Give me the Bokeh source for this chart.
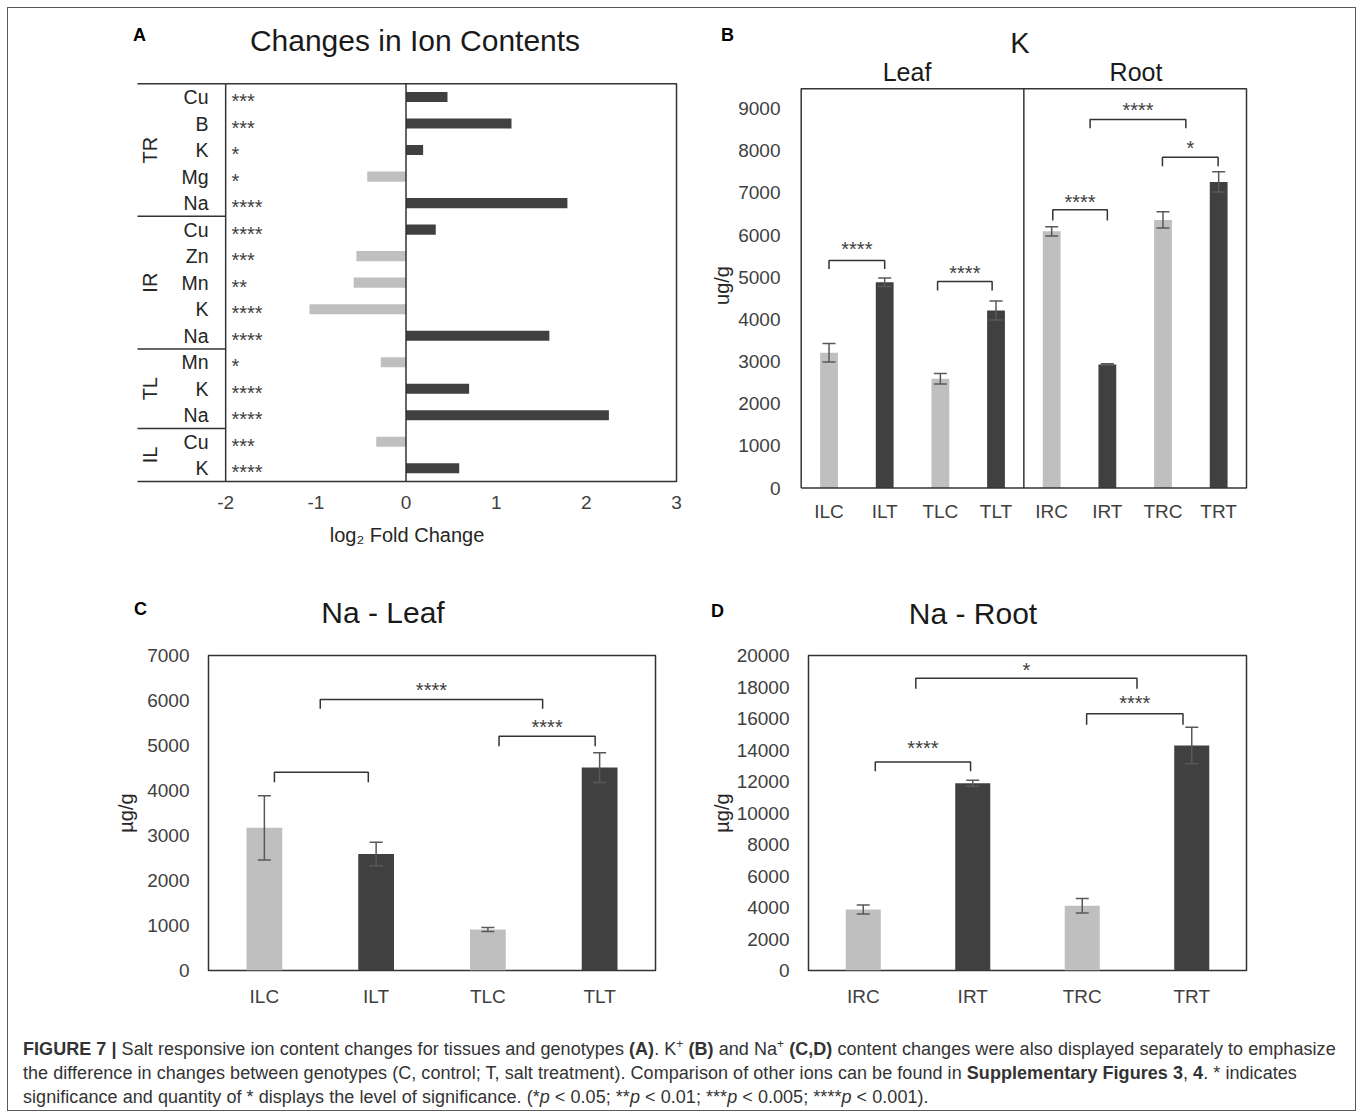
import numpy as np
from bokeh.plotting import figure
from bokeh.layouts import column, row
from bokeh.models import Range1d, FixedTicker, Whisker, TeeHead, ColumnDataSource, Div
from bokeh.core.properties import value
from bokeh.embed import file_html
from bokeh.resources import INLINE

FONT = "Liberation Sans"
DARK = "#404040"
LIGHT = "#bfbfbf"
FRAME = "#333333"
ERR = "#595959"
TICK_TXT = "#404040"
TITLE_TXT = "#1a1a1a"
PAGE_X0, PAGE_Y0 = 8, 8          # where the layout starts on the page
TOTAL_W = 1347

# ---------------- Panel A: log2 fold change of ion contents ----------------
a_title = "Changes in Ion Contents"
a_groups = ["TR", "IR", "TL", "IL"]
a_group_sizes = [5, 5, 3, 2]
a_ions = ["Cu", "B", "K", "Mg", "Na", "Cu", "Zn", "Mn", "K", "Na", "Mn", "K", "Na", "Cu", "K"]
a_log2fc = [0.46, 1.17, 0.19, -0.43, 1.79, 0.33, -0.55, -0.58, -1.07, 1.59, -0.28, 0.70, 2.25, -0.33, 0.59]
a_sig = ["***", "***", "*", "*", "****", "****", "***", "**", "****", "****", "*", "****", "****", "***", "****"]
a_xticks = [-2, -1, 0, 1, 2, 3]

# ---------------- Panel B: K content ----------------
b_title = "K"
b_cats = ["ILC", "ILT", "TLC", "TLT", "IRC", "IRT", "TRC", "TRT"]
b_mean = [3210, 4880, 2590, 4210, 6090, 2930, 6360, 7260]
b_err = [220, 100, 125, 225, 110, 15, 195, 240]
b_tissues = ["Leaf", "Root"]
b_yticks = list(range(0, 9001, 1000))
b_ymax = 9470
b_br_x1 = [0.50, 2.45, 4.52, 5.19, 6.49]
b_br_x2 = [1.50, 3.43, 5.50, 6.91, 7.49]
b_br_top = [5396, 4897, 6598, 8742, 7848]
b_br_leg = [5198, 4684, 6345, 8536, 7634]
b_br_sig = ["****", "****", "****", "****", "*"]
b_br_sig_y = [5775, 5198, 6875, 9051, 8149]

# ---------------- Panel C: Na - Leaf ----------------
c_title = "Na - Leaf"
c_cats = ["ILC", "ILT", "TLC", "TLT"]
c_mean = [3170, 2590, 910, 4510]
c_err = [715, 260, 45, 330]
c_yticks = list(range(0, 7001, 1000))
c_br_x1 = [0.59, 1.00, 2.60]
c_br_x2 = [1.43, 2.99, 3.46]
c_br_top = [4407, 6022, 5207]
c_br_leg = [4185, 5815, 4985]
c_br_sig = ["", "****", "****"]
c_br_sig_y = [4700, 6333, 5496]

# ---------------- Panel D: Na - Root ----------------
d_title = "Na - Root"
d_cats = ["IRC", "IRT", "TRC", "TRT"]
d_mean = [3880, 11890, 4110, 14290]
d_err = [285, 190, 455, 1160]
d_yticks = list(range(0, 20001, 2000))
d_br_x1 = [0.61, 0.98, 2.54]
d_br_x2 = [1.48, 3.00, 3.42]
d_br_top = [13235, 18562, 16300]
d_br_leg = [12643, 17886, 15603]
d_br_sig = ["****", "*", "****"]
d_br_sig_y = [14397, 19302, 17230]


def make_panel(ox, oy, w, h, fl, ft, fr, fb, xr, yr, outline=True):
    p = figure(width=w, height=h, x_range=Range1d(*xr), y_range=Range1d(*yr),
               output_backend="svg", toolbar_location=None,
               min_border_left=fl - ox, min_border_right=ox + w - fr,
               min_border_top=ft - oy, min_border_bottom=oy + h - fb,
               background_fill_color=None, border_fill_color=None)
    p.xgrid.visible = False
    p.ygrid.visible = False
    if outline:
        p.outline_line_color = FRAME
        p.outline_line_width = 1.5
        p.outline_line_alpha = 1.0
    else:
        p.outline_line_color = None

    def X(px):
        return xr[0] + (px - fl) / (fr - fl) * (xr[1] - xr[0])

    def Y(py):
        return yr[1] + (py - ft) / (fb - ft) * (yr[0] - yr[1])
    return p, X, Y


def style_axis(ax, size, standoff):
    ax.axis_line_color = None
    ax.major_tick_line_color = None
    ax.minor_tick_line_color = None
    ax.major_tick_out = 0
    ax.major_tick_in = 0
    ax.major_label_text_font = FONT
    ax.major_label_text_font_size = size
    ax.major_label_text_color = TICK_TXT
    ax.major_label_standoff = standoff
    ax.axis_label_text_font = FONT
    ax.axis_label_text_font_style = "normal"
    ax.axis_label_text_color = "#262626"


def bar_panel(p, cats, mean, err, yticks, ylabel, y_label_standoff, x_standoff,
              br_x1, br_x2, br_top, br_leg, br_sig, br_sig_y):
    xs = np.arange(len(cats)) + 0.5
    colors = [LIGHT if c.endswith("C") else DARK for c in cats]
    p.vbar(x=xs, top=mean, bottom=0, width=0.32, fill_color=colors, line_color=None)
    m = np.array(mean, dtype=float)
    e = np.array(err, dtype=float)
    src = ColumnDataSource(dict(x=xs, upper=m + e, lower=m - e))
    wh = Whisker(source=src, base="x", upper="upper", lower="lower",
                 line_color=ERR, line_width=1.5, level="overlay",
                 upper_head=TeeHead(size=13, line_color=ERR, line_width=1.5),
                 lower_head=TeeHead(size=13, line_color=ERR, line_width=1.5))
    p.add_layout(wh)
    bxs = [[a, a, b, b] for a, b in zip(br_x1, br_x2)]
    bys = [[l, t, t, l] for t, l in zip(br_top, br_leg)]
    p.multi_line(xs=bxs, ys=bys, line_color=FRAME, line_width=1.5)
    mids = [(a + b) / 2 for a, b in zip(br_x1, br_x2)]
    p.text(x=mids, y=br_sig_y, text=br_sig, text_align="center", text_baseline="middle",
           y_offset=4, text_font=value(FONT), text_font_size="20px", text_color="#404040")
    style_axis(p.xaxis, "19px", x_standoff)
    style_axis(p.yaxis, "19px", 19)
    p.xaxis.ticker = FixedTicker(ticks=list(xs))
    p.xaxis.major_label_overrides = {float(x): c for x, c in zip(xs, cats)}
    p.yaxis.ticker = FixedTicker(ticks=yticks)
    p.yaxis.major_label_overrides = {t: str(t) for t in yticks}
    p.yaxis.axis_label = ylabel
    p.yaxis.axis_label_text_font_size = "20px"
    p.yaxis.axis_label_standoff = y_label_standoff
    return xs


def title_div(y_top, height, items):
    spans = []
    for text, px, py, size, bold, anchor in items:
        tr = "translateX(-50%)" if anchor == "center" else "none"
        color = "#000000" if bold else TITLE_TXT
        spans.append(
            f'<span style="position:absolute;left:{px - PAGE_X0}px;top:{py - y_top}px;line-height:0;'
            f'white-space:nowrap;font-size:{size}px;font-weight:{"bold" if bold else "normal"};'
            f'color:{color};transform:{tr};">{text}</span>')
    html = (f'<div style="position:relative;width:{TOTAL_W}px;height:{height}px;'
            f'font-family:\'Liberation Sans\',Arial,sans-serif;">' + "".join(spans) + '</div>')
    return Div(text=html, width=TOTAL_W, height=height, margin=(0, 0, 0, 0))


# ================= titles of the top row =================
top_div = title_div(8, 73, [
    ("A", 133, 35, 18, True, "left"),
    (a_title, 415, 41, 30, False, "center"),
    ("B", 721, 35, 18, True, "left"),
    (b_title, 1020, 43, 29, False, "center"),
    (b_tissues[0], 907, 72, 25, False, "center"),
    (b_tissues[1], 1136, 72, 25, False, "center"),
])

# ================= Panel A =================
n_rows = len(a_ions)
pA, XA, YA = make_panel(8, 81, 687, 494, 135, 81, 678, 489,
                        (-3.0, 3.022), (n_rows + 8 / 26.513, -2.3 / 26.513), outline=False)
pA.yaxis.visible = False
style_axis(pA.xaxis, "19px", 6)
pA.xaxis.ticker = FixedTicker(ticks=a_xticks)
pA.xaxis.major_label_overrides = {t: str(t) for t in a_xticks}
pA.xaxis.axis_label = "log\u2082 Fold Change"
pA.xaxis.axis_label_text_font_size = "20px"
pA.xaxis.axis_label_standoff = 12

rows_c = np.arange(n_rows) + 0.5
a_colors = [DARK if v > 0 else LIGHT for v in a_log2fc]
pA.hbar(y=rows_c, left=0, right=a_log2fc, height=0.38, fill_color=a_colors, line_color=None)
bounds = np.concatenate([[0], np.cumsum(a_group_sizes)])
g_mid = (bounds[:-1] + bounds[1:]) / 2
x_lo, x_hi = a_xticks[0], a_xticks[-1]
pA.line(x=[x_lo, x_hi, x_hi, x_lo, x_lo], y=[0, 0, n_rows, n_rows, 0], line_color=FRAME, line_width=1.5)
sep_left = XA(137)
pA.segment(x0=[sep_left] * len(bounds), y0=bounds, x1=[x_lo] * len(bounds), y1=bounds,
           line_color=FRAME, line_width=1.5)
pA.segment(x0=[0], y0=[0], x1=[0], y1=[n_rows], line_color=FRAME, line_width=1.5)
pA.text(x=[XA(208)] * n_rows, y=rows_c, text=a_ions, text_align="right", text_baseline="middle",
        text_font=value(FONT), text_font_size="19.5px", text_color="#262626")
pA.text(x=[XA(231)] * n_rows, y=rows_c, text=a_sig, text_align="left", text_baseline="middle",
        y_offset=4, text_font=value(FONT), text_font_size="20px", text_color="#404040")
pA.text(x=[XA(149)] * len(a_groups), y=g_mid, text=a_groups, angle=np.pi / 2,
        text_align="center", text_baseline="middle",
        text_font=value(FONT), text_font_size="20px", text_color="#262626")

# ================= Panel B =================
ppu_b = (1246 - 800.7) / len(b_cats)
ppk_b = (487.5 - 88.3) / b_ymax
pB, XB, YB = make_panel(695, 81, 660, 494, 799, 81, 1248, 489,
                        (-(800.7 - 799) / ppu_b, len(b_cats) + 2 / ppu_b),
                        (-(489 - 487.5) / ppk_b, b_ymax + (88.3 - 81) / ppk_b), outline=False)
bar_panel(pB, b_cats, b_mean, b_err, b_yticks, "ug/g", 2, 11,
          b_br_x1, b_br_x2, b_br_top, b_br_leg, b_br_sig, b_br_sig_y)
nb = len(b_cats)
pB.line(x=[0, nb, nb, 0, 0], y=[0, 0, b_ymax, b_ymax, 0], line_color=FRAME, line_width=1.5)
pB.segment(x0=[nb / 2], y0=[0], x1=[nb / 2], y1=[b_ymax], line_color=FRAME, line_width=1.5)

# ================= titles of the bottom row =================
bot_div = title_div(575, 62, [
    ("C", 134, 609, 18, True, "left"),
    (c_title, 383, 613, 30, False, "center"),
    ("D", 711, 611, 18, True, "left"),
    (d_title, 973, 614, 30, False, "center"),
])

# ================= Panel C =================
pC, XC, YC = make_panel(8, 637, 687, 373, 208, 655, 655, 970, (0, 4), (0, 7000))
bar_panel(pC, c_cats, c_mean, c_err, c_yticks, "\u00b5g/g", 7, 15,
          c_br_x1, c_br_x2, c_br_top, c_br_leg, c_br_sig, c_br_sig_y)

# ================= Panel D =================
pD, XD, YD = make_panel(695, 637, 660, 373, 808, 655, 1246, 970, (0, 4), (0, 20000))
bar_panel(pD, d_cats, d_mean, d_err, d_yticks, "\u00b5g/g", 1, 15,
          d_br_x1, d_br_x2, d_br_top, d_br_leg, d_br_sig, d_br_sig_y)

# ================= Caption =================
caption_html = (
    '<div style="font-family:\'Liberation Sans\',Arial,sans-serif;font-size:18px;line-height:24px;'
    'color:#333333;white-space:nowrap;padding:27px 0 0 15px;letter-spacing:0.05px;">'
    '<b>FIGURE 7 |</b> Salt responsive ion content changes for tissues and genotypes <b>(A)</b>. '
    'K<sup style="font-size:12px;line-height:0">+</sup> <b>(B)</b> and Na<sup style="font-size:12px;line-height:0">+</sup> '
    '<b>(C,D)</b> content changes were also displayed separately to emphasize<br>'
    'the difference in changes between genotypes (C, control; T, salt treatment). Comparison of other '
    'ions can be found in <b>Supplementary Figures 3</b>, <b>4</b>. * indicates<br>'
    'significance and quantity of * displays the level of significance. (*<i>p</i> &lt; 0.05; '
    '**<i>p</i> &lt; 0.01; ***<i>p</i> &lt; 0.005; ****<i>p</i> &lt; 0.001).'
    '</div>'
)
cap = Div(text=caption_html, width=TOTAL_W, height=100, margin=(0, 0, 0, 0))

layout = column(top_div, row(pA, pB), bot_div, row(pC, pD), cap,
                margin=(PAGE_Y0, 0, 0, PAGE_X0),
                styles={"outline": "1px solid #5a5a5a"})

open("out.html", "w").write(file_html(layout, INLINE, "Figure 7"))
